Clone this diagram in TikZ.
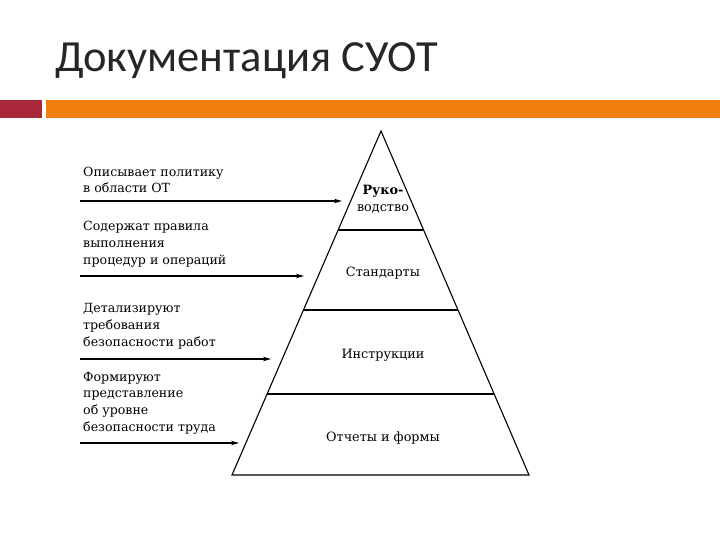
\documentclass[tikz,border=0pt]{standalone}
\usepackage{fontspec}
\setmainfont{DejaVu Serif}
\newfontfamily\titlefont{Carlito}
\usetikzlibrary{arrows.meta,calc}
\definecolor{barred}{HTML}{A8283A}
\definecolor{barorange}{HTML}{F07F0C}
\definecolor{titlegray}{HTML}{262626}
\tikzset{
  lbl/.style={font=\fontsize{12.6}{16.6}\selectfont, align=left, anchor=south west, inner sep=0pt},
  lvl/.style={font=\fontsize{12.8}{17}\selectfont, align=center, inner sep=0pt},
  arr/.style={line width=1.1pt, -{Stealth[length=8pt,width=4.5pt]}},
  pyr/.style={line width=1.1pt, line join=miter},
  div/.style={line width=1.4pt}
}
\begin{document}
\begin{tikzpicture}[x=1pt,y=-1pt]
\useasboundingbox (0,0) rectangle (720,540);
% title
\node[anchor=base west, inner sep=0pt, text=titlegray, font=\titlefont\fontsize{44.5}{44.5}\selectfont] (title) at (55,72) {Документация СУОТ};
% bars
\fill[barred] (0,100) rectangle (42,118);
\fill[barorange] (46,100) rectangle (720,118);
% pyramid
\coordinate (apex) at (381,131);
\coordinate (bl) at (232,475);
\coordinate (br) at (529,475);
\draw[pyr] (apex) -- (bl) -- (br) -- cycle;
\coordinate (d1l) at ($(apex)!0.2878!(bl)$);
\coordinate (d1r) at ($(apex)!0.2878!(br)$);
\coordinate (d2l) at ($(apex)!0.5203!(bl)$);
\coordinate (d2r) at ($(apex)!0.5203!(br)$);
\coordinate (d3l) at ($(apex)!0.7645!(bl)$);
\coordinate (d3r) at ($(apex)!0.7645!(br)$);
\draw[div] (d1l) -- (d1r);
\draw[div] (d2l) -- (d2r);
\draw[div] (d3l) -- (d3r);
% level texts
\node[lvl] (l1) at (383,199) {\bfseries Руко-\\водство};
\node[lvl] (l2) at (383,273) {Стандарты};
\node[lvl] (l3) at (383,355) {Инструкции};
\node[lvl] (l4) at (383,438) {Отчеты и формы};
% arrows
\coordinate (s1) at (80,201); \coordinate (e1) at (342,201);
\coordinate (s2) at (80,276); \coordinate (e2) at (304,276);
\coordinate (s3) at (80,359); \coordinate (e3) at (271,359);
\coordinate (s4) at (80,443); \coordinate (e4) at (239,443);
\draw[arr] (s1) -- (e1);
\draw[arr] (s2) -- (e2);
\draw[arr] (s3) -- (e3);
\draw[arr] (s4) -- (e4);
% labels
\node[lbl] (t1) at (83,193) {Описывает политику\\в области ОТ};
\node[lbl] (t2) at (83,267) {Содержат правила\\выполнения\\процедур и операций};
\node[lbl] (t3) at (83,349) {Детализируют\\требования\\безопасности работ};
\node[lbl] (t4) at (83,434) {Формируют\\представление\\об уровне\\безопасности труда};
\end{tikzpicture}
\end{document}
